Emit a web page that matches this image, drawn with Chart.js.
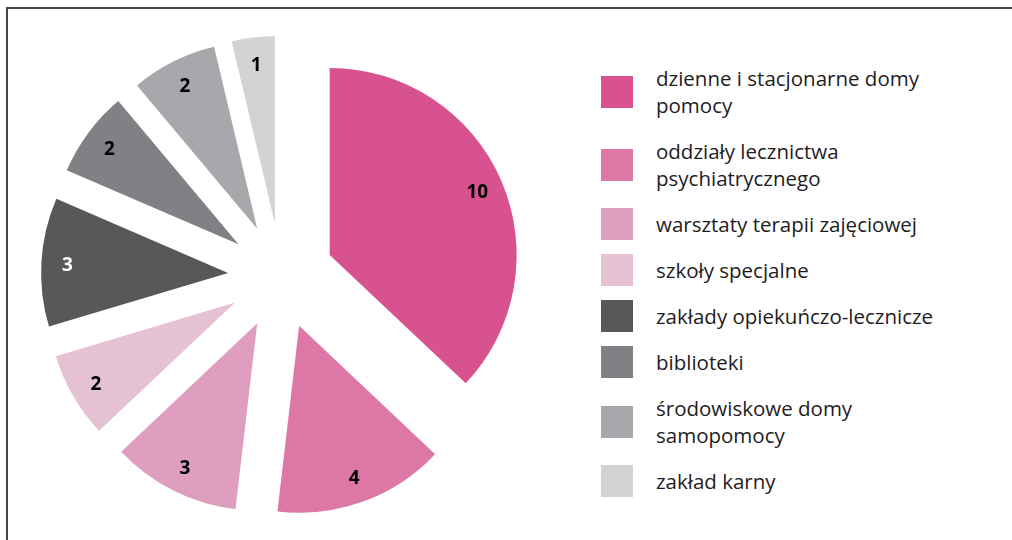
<!DOCTYPE html>
<html lang="pl">
<head>
<meta charset="utf-8">
<title>Placówki</title>
<script src="https://cdn.jsdelivr.net/npm/chart.js"></script>
<style>
  body { margin: 0; background: #fff; width: 1012px; height: 540px; overflow: hidden; position: relative; font-family: "Open Sans", sans-serif; }
  .ramka { position: absolute; left: 6px; top: 7px; right: -10px; bottom: -10px; border-top: 2px solid #454545; border-left: 2px solid #454545; }
  #wrap { position: absolute; left: 0; top: 0; width: 560px; height: 540px; }
  #legenda { position: absolute; left: 601px; top: 55px; width: 410px; color: #1f1c1d; font-size: 20.5px; line-height: 27px; white-space: nowrap; }
  .item { display: flex; align-items: center; padding: 9.5px 0; }
  .kw { width: 32px; height: 32px; flex: none; margin: -2.5px 23px -2.5px 0; }
</style>
</head>
<body>
<div class="ramka"></div>
<div id="wrap"><canvas id="pieChart" width="560" height="540"></canvas></div>
<div id="legenda"></div>

<script>
var kategorie = [
    ['dzienne i stacjonarne domy', 'pomocy'],
    ['oddziały lecznictwa', 'psychiatrycznego'],
    ['warsztaty terapii zajęciowej'],
    ['szkoły specjalne'],
    ['zakłady opiekuńczo-lecznicze'],
    ['biblioteki'],
    ['środowiskowe domy', 'samopomocy'],
    ['zakład karny']
];
var wartosci = [10, 4, 3, 2, 3, 2, 2, 1];
var kolory = ['#d85290', '#dc77a6', '#df9ebf', '#e5c2d3', '#58585a', '#808184', '#a7a8ab', '#d1d3d4'];
var kolorEtykiet = ['#000', '#000', '#000', '#000', '#fff', '#000', '#000', '#000'];

// wysuniecie kawalkow od srodka + liczby na kawalkach
var explode = {
    id: 'explode',
    beforeDatasetDraw: function (chart, args, opts) {
        var ctx = chart.ctx;
        args.meta.data.forEach(function (arc) {
            var mid = (arc.startAngle + arc.endAngle) / 2;
            ctx.save();
            ctx.translate(Math.cos(mid) * opts.distance, Math.sin(mid) * opts.distance);
            arc.draw(ctx);
            ctx.restore();
        });
        return false;
    },
    afterDatasetsDraw: function (chart, args, opts) {
        var ctx = chart.ctx;
        var meta = chart.getDatasetMeta(0);
        ctx.save();
        ctx.font = 'bold 19px "Open Sans", sans-serif';
        ctx.textAlign = 'center';
        ctx.textBaseline = 'alphabetic';
        meta.data.forEach(function (arc, i) {
            var mid = (arc.startAngle + arc.endAngle) / 2;
            var d = opts.distance + arc.outerRadius * 0.86;
            ctx.fillStyle = kolorEtykiet[i];
            // +7 zeby cyfry byly wysrodkowane w pionie
            ctx.fillText(wartosci[i], arc.x + Math.cos(mid) * d, arc.y + Math.sin(mid) * d + 7);
        });
        ctx.restore();
    }
};

var ctx = document.getElementById('pieChart').getContext('2d');
var pieChart = new Chart(ctx, {
    type: 'pie',
    data: {
        labels: kategorie.map(function (k) { return k.join(' '); }),
        datasets: [{
            data: wartosci,
            backgroundColor: kolory,
            borderWidth: 0
        }]
    },
    options: {
        responsive: false,
        animation: false,
        radius: 187,
        layout: { padding: { left: 81, right: 79, top: 76, bottom: 64 } },
        plugins: {
            legend: { display: false },
            tooltip: { enabled: false },
            explode: { distance: 53 }
        }
    },
    plugins: [explode]
});

var legenda = document.getElementById('legenda');
for (let i = 0; i < kategorie.length; i++) {
    var item = document.createElement('div');
    item.className = 'item';
    var kw = document.createElement('div');
    kw.className = 'kw';
    kw.style.background = kolory[i];
    var txt = document.createElement('div');
    txt.innerHTML = kategorie[i].join('<br>');
    item.appendChild(kw);
    item.appendChild(txt);
    legenda.appendChild(item);
}
</script>
</body>
</html>
